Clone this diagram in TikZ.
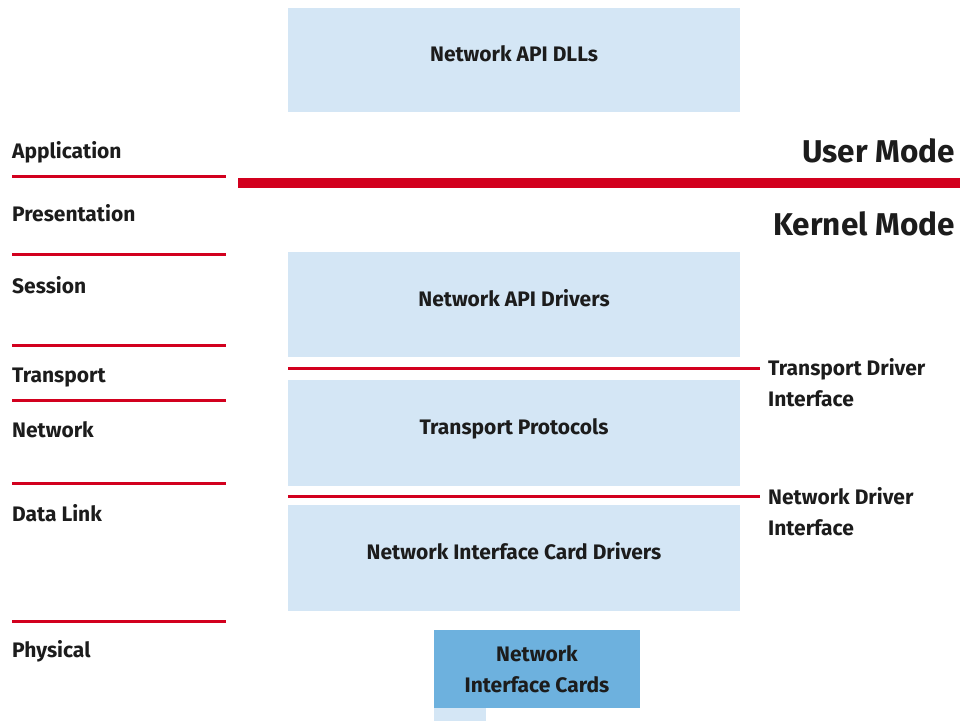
\documentclass[tikz,border=0pt]{standalone}
\usepackage{fontspec}
\setmainfont{Fira Sans}
\definecolor{osired}{HTML}{D2001E}
\definecolor{boxblue}{HTML}{D4E6F5}
\definecolor{cardblue}{HTML}{6DB1DE}
\definecolor{inkgray}{HTML}{1C1C1C}
\tikzset{
  layer/.style={anchor=base west, inner sep=0pt, font=\bfseries\fontsize{21}{24}\selectfont, text=inkgray},
  block/.style={fill=boxblue, minimum width=452pt, minimum height=105pt, inner sep=0pt,
    text height=15pt, text depth=12pt,
    font=\bfseries\fontsize{21}{24}\selectfont, text=inkgray},
  mode/.style={anchor=base east, inner sep=0pt, font=\bfseries\fontsize{31.5}{36}\selectfont, text=inkgray},
  iface/.style={anchor=north west, inner sep=0pt, align=left, text height=15pt,
    font=\bfseries\fontsize{21}{31}\selectfont, text=inkgray},
  sep/.style={draw=osired, line width=3pt},
}
\begin{document}
\begin{tikzpicture}[x=1pt, y=-1pt]
  \useasboundingbox (0,0) rectangle (960,721);
  % OSI layers
  \node[layer] (app) at (12,158) {Application};
  \node[layer] (pres) at (12,221) {Presentation};
  \node[layer] (sess) at (12,293) {Session};
  \node[layer] (trans) at (12,382) {Transport};
  \node[layer] (net) at (12,437) {Network};
  \node[layer] (link) at (12,521) {Data Link};
  \node[layer] (phys) at (12,657) {Physical};
  \foreach \y in {176,254,345,400,483,621}
    \draw[sep] (12,\y) -- (226,\y);
  % user / kernel boundary
  \node[mode] (user) at (955,162) {User Mode};
  \node[mode] (kernel) at (955,235) {Kernel Mode};
  \coordinate (ukl) at (238,183);
  \coordinate (ukr) at (960,183);
  \draw[draw=osired, line width=10pt] (ukl) -- (ukr);
  % components
  \node[block, minimum height=104pt] (dlls) at (514,60) {Network API DLLs};
  \node[block] (apidrv) at (514,304.5) {Network API Drivers};
  \node[block, minimum height=106pt] (proto) at (514,433) {Transport Protocols};
  \node[block, minimum height=106pt] (nicdrv) at (514,558) {Network Interface Card Drivers};
  \node[fill=cardblue, minimum width=206pt, minimum height=78pt, inner sep=0pt, align=center,
    font=\bfseries\fontsize{21}{31}\selectfont, text=inkgray] (nic) at (537,669) {Network\\Interface Cards};
  \node[fill=boxblue, minimum width=52pt, minimum height=13pt, inner sep=0pt, anchor=north west]
    (stub) at (nic.south west) {};
  % driver interfaces
  \node[iface] (tdi) at (768,391) {Transport Driver\\Interface};
  \node[iface] (ndi) at (768,520) {Network Driver\\Interface};
  \coordinate (tdil) at (288,368);
  \coordinate (ndil) at (288,496);
  \draw[sep, shorten >=8pt] (tdil) -- (tdil -| tdi.west);
  \draw[sep, shorten >=8pt] (ndil) -- (ndil -| ndi.west);
\end{tikzpicture}
\end{document}
